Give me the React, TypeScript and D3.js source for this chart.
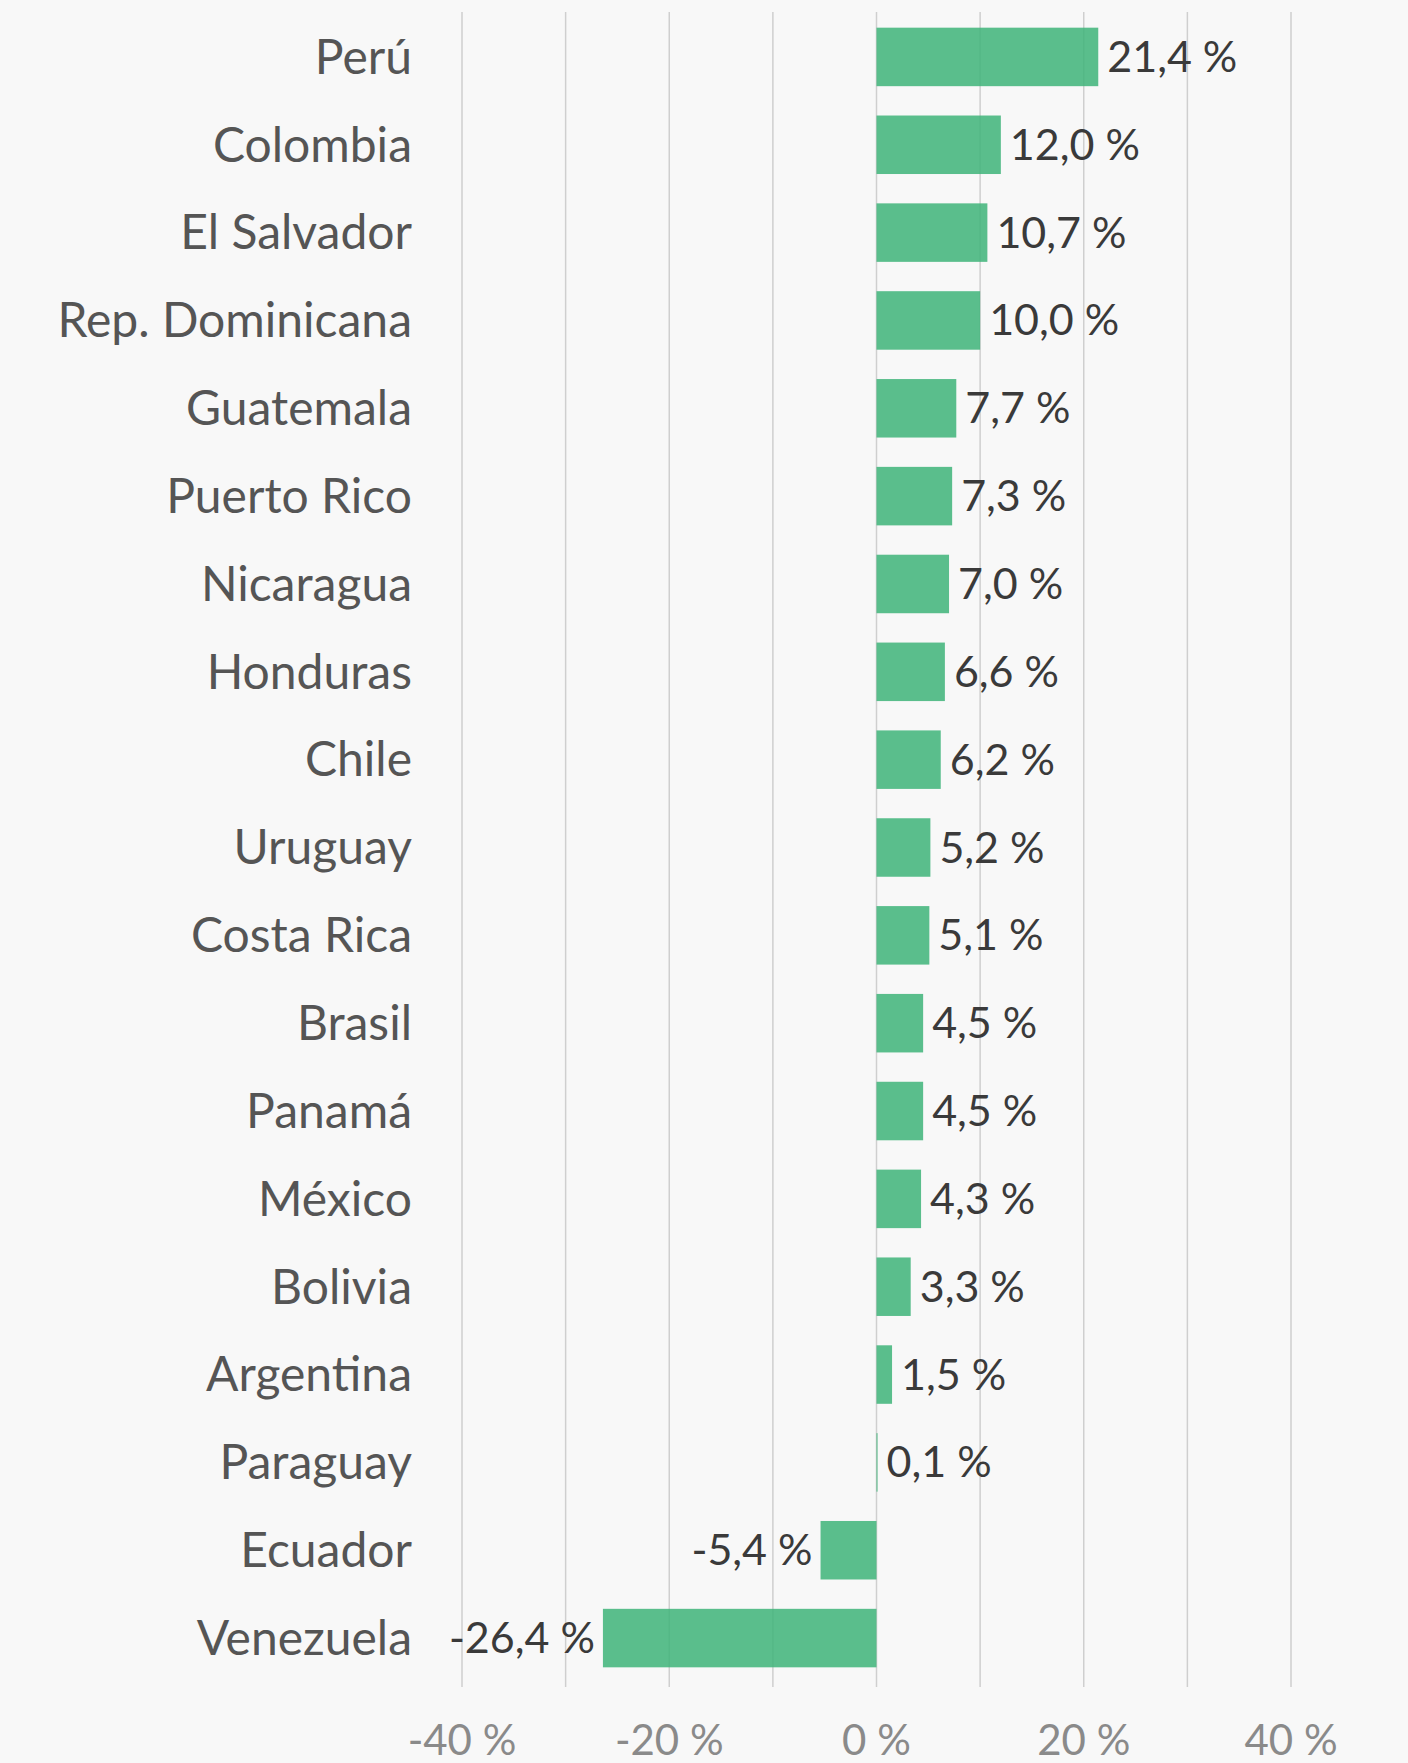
import React from "react";
import * as d3 from "d3";

const categories = [
  "Perú", "Colombia", "El Salvador", "Rep. Dominicana", "Guatemala", "Puerto Rico",
  "Nicaragua", "Honduras", "Chile", "Uruguay", "Costa Rica", "Brasil", "Panamá",
  "México", "Bolivia", "Argentina", "Paraguay", "Ecuador", "Venezuela",
];
const values = [
  21.4, 12.0, 10.7, 10.0, 7.7, 7.3, 7.0, 6.6, 6.2, 5.2, 5.1, 4.5, 4.5, 4.3, 3.3, 1.5, 0.1, -5.4, -26.4,
];
const gridValues = [-40, -30, -20, -10, 0, 10, 20, 30, 40];
const tickValues = [-40, -20, 0, 20, 40];

const W = 1408;
const H = 1763;
const FONT = "Lato, 'Noto Sans', sans-serif";

export default function App() {
  const x = d3.scaleLinear().domain([-40, 40]).range([462, 1291]);
  const y = d3
    .scaleBand<string>()
    .domain(categories)
    .range([13, 1682])
    .paddingInner(0.334)
    .paddingOuter(0.167);
  const bw = y.bandwidth();
  const fmt = (v: number) => v.toFixed(1).replace(".", ",") + " %";
  const data = categories.map((c, i) => ({ c, v: values[i] }));

  return (
    <svg
      width={W}
      height={H}
      style={{ position: "absolute", left: 0, top: 0, display: "block" }}
      fontFamily={FONT}
    >
      <rect x={0} y={0} width={W} height={H} fill="#f8f8f8" />
      {gridValues.map((g) => (
        <line
          key={g}
          x1={x(g)}
          x2={x(g)}
          y1={12}
          y2={1687}
          stroke="#cfcfcf"
          strokeWidth={1.5}
        />
      ))}
      {tickValues.map((t) => (
        <text
          key={t}
          x={x(t)}
          y={1740}
          dy="0.35em"
          textAnchor="middle"
          fontSize={42}
          fill="#8a8a8a"
        >
          {`${t} %`}
        </text>
      ))}
      {data.map((d) => {
        const yc = (y(d.c) as number) + bw / 2;
        const x0 = x(Math.min(0, d.v));
        const x1 = x(Math.max(0, d.v));
        return (
          <g key={d.c}>
            <rect
              x={x0}
              y={y(d.c)}
              width={Math.max(0, x1 - x0)}
              height={bw}
              fill="rgb(62,180,121)"
              fillOpacity={0.85}
            />
            <text
              x={412}
              y={yc}
              dy="0.35em"
              textAnchor="end"
              fontSize={48}
              fill="#555"
            >
              {d.c}
            </text>
            <text
              x={d.v >= 0 ? x1 + 9 : x0 - 8}
              y={yc}
              dy="0.35em"
              textAnchor={d.v >= 0 ? "start" : "end"}
              fontSize={43}
              fill="#3a3a3a"
            >
              {fmt(d.v)}
            </text>
          </g>
        );
      })}
    </svg>
  );
}
